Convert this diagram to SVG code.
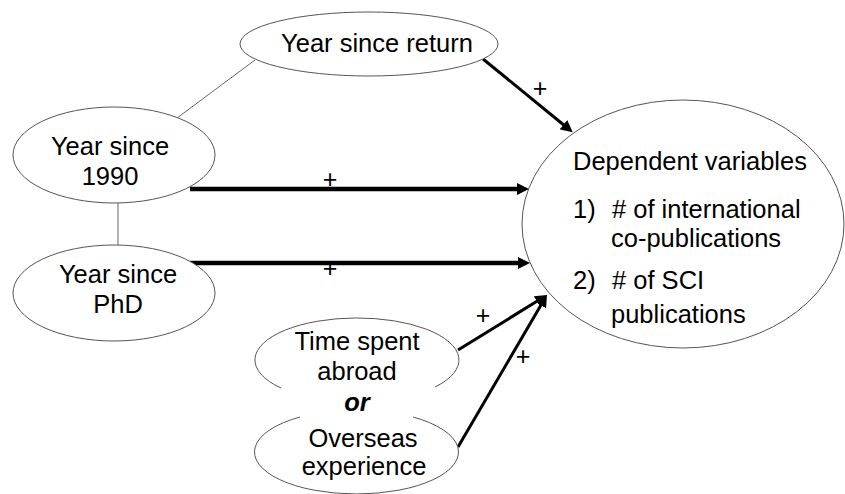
<svg xmlns="http://www.w3.org/2000/svg" width="845" height="494" viewBox="0 0 845 494">
<style>
.node{fill:#fff;stroke:#555;stroke-width:1}
.t{font-family:"Liberation Sans",Arial,sans-serif;font-size:25.5px;fill:#000}
.c{text-anchor:middle}
.plus{font-family:"Liberation Sans",Arial,sans-serif;font-size:25px;fill:#000;text-anchor:middle}
.thin{stroke:#666;stroke-width:1;fill:none}
.thick{stroke:#000;stroke-width:4.5;fill:none;marker-end:url(#ah)}
.mid{stroke:#000;stroke-width:3;fill:none;marker-end:url(#ah)}
</style>
<defs>
<marker id="ah" markerUnits="userSpaceOnUse" markerWidth="14" markerHeight="12" refX="2" refY="6" orient="auto" viewBox="0 0 14 12">
<path d="M0,0 L12,6 L0,12 z" fill="#000"/>
</marker>
</defs>
<rect width="845" height="494" fill="#fff"/>
<g id="connectors">
<line class="thin" x1="255" y1="60" x2="177" y2="118"/>
<line class="thin" x1="118" y1="203" x2="118" y2="245"/>
<line class="thick" x1="190" y1="189" x2="519" y2="189"/>
<line class="thick" x1="190" y1="263" x2="520" y2="263"/>
<line class="mid" x1="483" y1="59" x2="565" y2="126"/>
<line class="mid" x1="458" y1="350" x2="538.5" y2="300.3"/>
<line class="mid" x1="458" y1="447" x2="541.9" y2="303.6"/>
<text class="plus" x="540" y="97">+</text>
<text class="plus" x="330" y="188">+</text>
<text class="plus" x="330" y="277">+</text>
<text class="plus" x="483" y="324">+</text>
<text class="plus" x="523" y="365">+</text>
</g>
<g id="node-return">
<ellipse class="node" cx="369" cy="44" rx="129" ry="32"/>
<text class="t c" x="377" y="52">Year since return</text>
</g>
<g id="node-1990">
<ellipse class="node" cx="114" cy="155" rx="101" ry="48"/>
<text class="t c" x="110" y="155">Year since</text>
<text class="t c" x="110" y="185">1990</text>
</g>
<g id="node-phd">
<ellipse class="node" cx="114" cy="293" rx="101" ry="48"/>
<text class="t c" x="118" y="283">Year since</text>
<text class="t c" x="118" y="313">PhD</text>
</g>
<g id="node-dependent">
<ellipse class="node" cx="683" cy="224" rx="161" ry="124"/>
<text class="t" x="573" y="170">Dependent variables</text>
<text class="t" x="573" y="218">1)</text>
<text class="t" x="612" y="218"># of international</text>
<text class="t" x="611" y="247">co-publications</text>
<text class="t" x="573" y="289">2)</text>
<text class="t" x="612" y="289"># of SCI</text>
<text class="t" x="611" y="323">publications</text>
</g>
<g id="node-abroad">
<path class="node" d="M281,388 A102,42 0 1 1 435,387"/>
<text class="t c" x="357" y="350">Time spent</text>
<text class="t c" x="357" y="380">abroad</text>
</g>
<g id="or-label">
<text class="t c" x="357" y="411" font-weight="bold" font-style="italic">or</text>
</g>
<g id="node-overseas">
<path class="node" d="M413,417 A102,42 0 1 1 300,417"/>
<text class="t c" x="363" y="447">Overseas</text>
<text class="t c" x="364" y="475">experience</text>
</g>
</svg>
